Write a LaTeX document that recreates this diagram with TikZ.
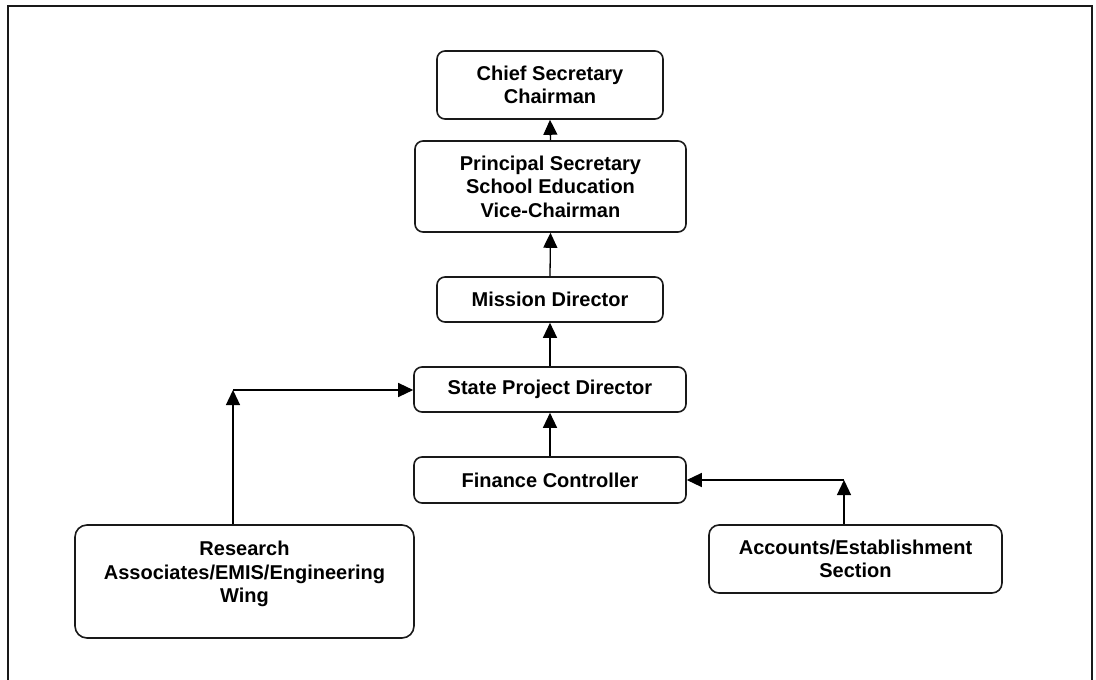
\documentclass[tikz,border=0pt]{standalone}
\usepackage{fontspec}
\setmainfont{Liberation Sans}
\usetikzlibrary{arrows.meta}
\begin{document}
\begin{tikzpicture}[x=1pt,y=-1pt,
  box/.style={draw=black!90, line width=1.6pt, rounded corners=8pt, align=center,
    inner sep=0pt, font=\fontsize{20}{23.5}\selectfont\bfseries},
  conn/.style={draw=black, line width=1.3pt,
    -{Triangle[length=15pt,width=14pt]}},
  frame/.style={draw=black!90, line width=2.2pt}]
  \useasboundingbox (0,0) rectangle (1096,680);
  % outer frame, running past the lower edge
  \draw[frame] (8,700) -- (8,6) -- (1092,6) -- (1092,700);

  % chain of offices
  \node[box, minimum width=226pt, minimum height=68pt] (chief) at (550,85)
    {Chief Secretary\\Chairman};
  \node[box, minimum width=271pt, minimum height=91pt] (principal) at (550.5,186.5)
    {Principal Secretary\\School Education\\Vice-Chairman};
  \node[box, minimum width=226pt, minimum height=45pt] (mission) at (550,299.5)
    {Mission Director};
  \node[box, minimum width=272pt, minimum height=45pt] (spd) at (550,389.5)
    {State Project Director};
  \node[box, minimum width=272pt, minimum height=46pt] (finance) at (550,480)
    {Finance Controller};
  \node[box, rounded corners=10pt, minimum width=293pt, minimum height=68pt] (accounts) at (855.5,559)
    {Accounts/Establishment\\Section};
  \node[box, rounded corners=12pt, minimum width=339pt, minimum height=113pt] (research) at (244.5,581.5) {};
  \node[align=center, inner sep=0pt, font=\fontsize{20}{23.5}\selectfont\bfseries] (researchtext) at (244.5,574)
    {Research\\Associates/EMIS/Engineering\\Wing};

  % vertical links
  \draw[conn] (principal.north) -- (chief.south);
  \draw[conn] (mission.north) -- (principal.south);
  \draw[conn] (spd.north) -- (mission.south);
  \draw[conn] (finance.north) -- (spd.south);

  % side links
  \coordinate (lc) at (233,390);
  \coordinate (rc) at (844,480);
  \draw[conn] (research.north -| lc) -- (lc);
  \draw[conn] (lc) -- (spd.west |- lc);
  \draw[conn] (accounts.north -| rc) -- (rc);
  \draw[conn] (rc) -- (finance.east |- rc);
\end{tikzpicture}
\end{document}
